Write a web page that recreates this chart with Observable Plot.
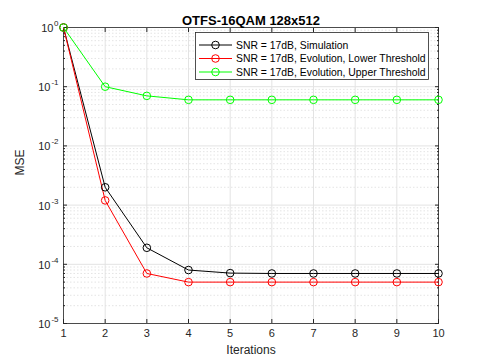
<!DOCTYPE html>
<html>
<head>
<meta charset="utf-8">
<script src="https://cdn.jsdelivr.net/npm/d3@7"></script>
<script src="https://cdn.jsdelivr.net/npm/@observablehq/plot@0.6"></script>
<style>
  html, body { margin: 0; padding: 0; background: #fff; }
  #chart { width: 484px; height: 363px; }
</style>
</head>
<body>
<div id="chart"></div>
<script>
const iterations = [1, 2, 3, 4, 5, 6, 7, 8, 9, 10];
const simulation = [1, 2.0e-3, 1.9e-4, 8.0e-5, 7.1e-5, 7.0e-5, 7.0e-5, 7.0e-5, 7.0e-5, 7.0e-5];
const lowerThreshold = [1, 1.2e-3, 7.0e-5, 5.0e-5, 5.0e-5, 5.0e-5, 5.0e-5, 5.0e-5, 5.0e-5, 5.0e-5];
const upperThreshold = [1, 0.1, 0.07, 0.06, 0.06, 0.06, 0.06, 0.06, 0.06, 0.06];
const seriesNames = [
  "SNR = 17dB, Simulation",
  "SNR = 17dB, Evolution, Lower Threshold",
  "SNR = 17dB, Evolution, Upper Threshold"
];
const seriesColors = ["#000000", "#ff0000", "#00ff00"];
const xTicks = [1, 2, 3, 4, 5, 6, 7, 8, 9, 10];
const yExponents = [0, -1, -2, -3, -4, -5];
const titleText = "OTFS-16QAM 128x512";
const xLabel = "Iterations";
const yLabel = "MSE";

const seriesValues = [simulation, lowerThreshold, upperThreshold];
const data = seriesValues.flatMap((vals, s) =>
  vals.map((v, i) => ({ series: seriesNames[s], x: iterations[i], y: v })));
const majorY = yExponents.map(e => Math.pow(10, e));
const minorY = [];
for (const e of yExponents) if (e < 0) for (let m = 2; m <= 9; m++) minorY.push(m * Math.pow(10, e));

const ink = "#262626";
const font = "'Liberation Sans', Arial, Helvetica, sans-serif";

const chart = Plot.plot({
  width: 484,
  height: 363,
  marginLeft: 63,
  marginRight: 46,
  marginTop: 27,
  marginBottom: 40,
  style: { fontFamily: font, background: "#fff", color: ink, overflow: "visible" },
  x: { domain: [1, 10], type: "linear", label: null },
  y: { type: "log", domain: [1e-5, 1], label: null },
  color: { domain: seriesNames, range: seriesColors },
  marks: [
    Plot.ruleY(minorY, { stroke: "#dddddd", strokeWidth: 0.8, strokeDasharray: "1.5,2" }),
    Plot.ruleX(xTicks, { stroke: "#e3e3e3", strokeWidth: 1 }),
    Plot.ruleY(majorY, { stroke: "#e3e3e3", strokeWidth: 1 }),
    Plot.frame({ stroke: ink, strokeWidth: 0.8 }),
    // inward ticks
    Plot.axisX(xTicks, { anchor: "bottom", tickSize: -4, text: null, stroke: ink, label: null }),
    Plot.axisX(xTicks, { anchor: "top", tickSize: -4, text: null, stroke: ink, label: null }),
    Plot.axisY(majorY, { anchor: "left", tickSize: -4, text: null, stroke: ink, label: null }),
    Plot.axisY(majorY, { anchor: "right", tickSize: -4, text: null, stroke: ink, label: null }),
    Plot.axisY(minorY, { anchor: "left", tickSize: -2, text: null, stroke: ink, label: null }),
    Plot.axisY(minorY, { anchor: "right", tickSize: -2, text: null, stroke: ink, label: null }),
    // x tick labels
    Plot.text(xTicks, { x: d => d, frameAnchor: "bottom", dy: 13, text: d => String(d), fill: ink, fontSize: 11 }),
    Plot.text([xLabel], { frameAnchor: "bottom", dy: 30, text: d => d, fill: ink, fontSize: 12 }),
    // y tick labels: base "10" and superscript exponent
    Plot.text(yExponents.filter(e => e === 0), { x: () => 1, y: e => Math.pow(10, e), text: () => "10", textAnchor: "end", dx: -10, dy: 1, fill: ink, fontSize: 11 }),
    Plot.text(yExponents.filter(e => e < 0), { x: () => 1, y: e => Math.pow(10, e), text: () => "10", textAnchor: "end", dx: -13, dy: 1, fill: ink, fontSize: 11 }),
    Plot.text(yExponents, { x: () => 1, y: e => Math.pow(10, e), text: e => e < 0 ? "-" + Math.abs(e) : String(e), textAnchor: "end", dx: -5, dy: -4, fill: ink, fontSize: 8 }),
    Plot.text([yLabel], { frameAnchor: "left", dx: -43, rotate: -90, text: d => d, fill: ink, fontSize: 12 }),
    // title
    Plot.text([titleText], { frameAnchor: "top", dy: -12, text: d => d, fill: "#000", fontSize: 13, fontWeight: "bold" }),
    // data
    Plot.line(data, { x: "x", y: "y", z: "series", stroke: "series", strokeWidth: 1 }),
    Plot.dot(data, { x: "x", y: "y", stroke: "series", r: 3.8, strokeWidth: 1, fill: "none" })
  ]
});

// legend inside the axes (top-right), drawn onto the same SVG
const svg = d3.select(chart);
const lg = svg.append("g").attr("transform", "translate(195,32)")
  .style("font-family", font).attr("text-anchor", "start");
lg.append("rect").attr("x", 0.5).attr("y", 0.5).attr("width", 233).attr("height", 47)
  .attr("fill", "#fff").attr("stroke", ink).attr("stroke-width", 0.8);
seriesNames.forEach((name, i) => {
  const cy = 13 + i * 13.5;
  lg.append("line").attr("x1", 4).attr("x2", 37).attr("y1", cy).attr("y2", cy)
    .attr("stroke", seriesColors[i]).attr("stroke-width", 1);
  lg.append("circle").attr("cx", 20.5).attr("cy", cy).attr("r", 3.8)
    .attr("fill", "none").attr("stroke", seriesColors[i]).attr("stroke-width", 1);
  lg.append("text").attr("x", 41).attr("y", cy).attr("dy", "0.35em")
    .attr("text-anchor", "start").attr("font-size", 10.4).attr("fill", "#000").text(name);
});

document.getElementById("chart").appendChild(chart);
</script>
</body>
</html>
